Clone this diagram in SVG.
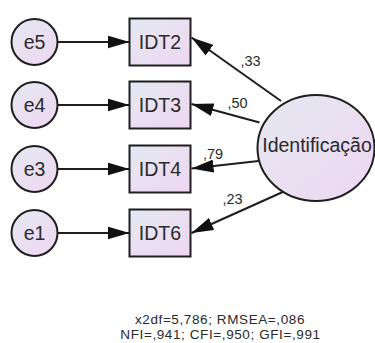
<svg xmlns="http://www.w3.org/2000/svg" width="375" height="343" viewBox="0 0 375 343">
  <style>
    .shape { fill: url(#nodeFill); stroke: #1e1e1e; stroke-width: 2; }
    .lbl { font-family: "Liberation Sans", Arial, sans-serif; fill: #2a2a2a; }
    .node-text { font-size: 19.5px; text-anchor: middle; dominant-baseline: central; }
    .coef { font-size: 14.5px; }
    .fit { font-size: 13.5px; letter-spacing: 0.6px; text-anchor: middle; }
    .edge { stroke: #1e1e1e; stroke-width: 2; fill: none; marker-end: url(#head); }
  </style>
  <defs>
    <linearGradient id="nodeFill" x1="0" y1="0" x2="1" y2="1">
      <stop offset="0" stop-color="#e4e9f1"/>
      <stop offset="1" stop-color="#efd6f1"/>
    </linearGradient>
    <marker id="head" viewBox="0 0 22 13" markerWidth="22" markerHeight="13" refX="22" refY="6.5" orient="auto" markerUnits="userSpaceOnUse">
      <path d="M0,0 L22,6.5 L0,13 Z" fill="#111"/>
    </marker>
  </defs>

  <!-- paths: errors to indicators, latent factor to indicators -->
  <g id="connectors">
    <line class="edge" x1="57.5" y1="42" x2="129.5" y2="42"/>
    <line class="edge" x1="57.5" y1="105" x2="129.5" y2="105"/>
    <line class="edge" x1="57.5" y1="169" x2="129.5" y2="169"/>
    <line class="edge" x1="57.5" y1="233" x2="129.5" y2="233"/>
    <line class="edge" x1="281" y1="101" x2="191.5" y2="37.5"/>
    <line class="edge" x1="259.5" y1="122.5" x2="191.5" y2="104"/>
    <line class="edge" x1="258.5" y1="161" x2="191.5" y2="168.5"/>
    <line class="edge" x1="295" y1="186.5" x2="191.5" y2="233"/>
  </g>

  <!-- error terms -->
  <g id="e5"><circle class="shape" cx="34.5" cy="42" r="23"/><text class="lbl node-text" x="34.5" y="42">e5</text></g>
  <g id="e4"><circle class="shape" cx="34.5" cy="105" r="23"/><text class="lbl node-text" x="34.5" y="105">e4</text></g>
  <g id="e3"><circle class="shape" cx="34.5" cy="169" r="23"/><text class="lbl node-text" x="34.5" y="169">e3</text></g>
  <g id="e1"><circle class="shape" cx="34.5" cy="233" r="23"/><text class="lbl node-text" x="34.5" y="233">e1</text></g>

  <!-- observed indicators -->
  <g id="IDT2"><rect class="shape" x="129.5" y="18.5" width="61" height="47"/><text class="lbl node-text" x="160" y="42">IDT2</text></g>
  <g id="IDT3"><rect class="shape" x="129.5" y="81.5" width="61" height="47"/><text class="lbl node-text" x="160" y="105">IDT3</text></g>
  <g id="IDT4"><rect class="shape" x="129.5" y="145.5" width="61" height="47"/><text class="lbl node-text" x="160" y="169">IDT4</text></g>
  <g id="IDT6"><rect class="shape" x="129.5" y="209.5" width="61" height="47"/><text class="lbl node-text" x="160" y="233">IDT6</text></g>

  <!-- latent factor -->
  <g id="Identificacao">
    <ellipse class="shape" cx="316" cy="148" rx="58.5" ry="53"/>
    <text class="lbl node-text" x="317" y="145">Identificação</text>
  </g>

  <!-- standardized loadings -->
  <g id="coefficients">
    <text class="lbl coef" x="240.5" y="66">,33</text>
    <text class="lbl coef" x="227.5" y="108">,50</text>
    <text class="lbl coef" x="203" y="159">,79</text>
    <text class="lbl coef" x="222.5" y="204">,23</text>
  </g>

  <!-- fit indices -->
  <g id="fit">
    <text class="lbl fit" x="220" y="323.5">x2df=5,786; RMSEA=,086</text>
    <text class="lbl fit" x="220.5" y="339">NFI=,941; CFI=,950; GFI=,991</text>
  </g>
</svg>
